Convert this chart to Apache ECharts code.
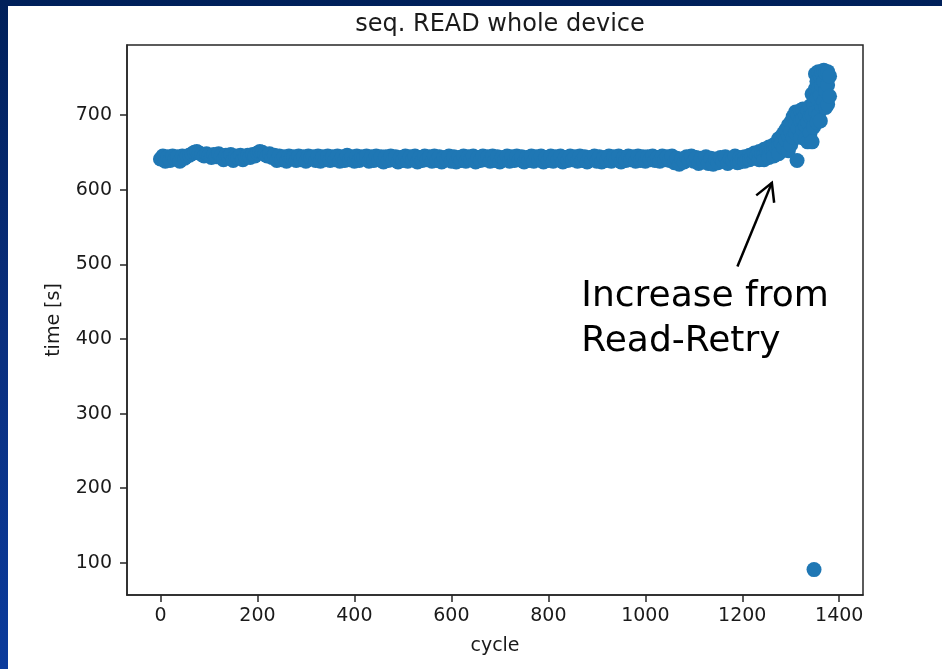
<!DOCTYPE html>
<html>
<head>
<meta charset="utf-8">
<title>seq. READ whole device</title>
<script src="https://cdn.jsdelivr.net/npm/echarts@6/dist/echarts.min.js"></script>
<style>
  html, body { margin: 0; padding: 0; width: 942px; height: 669px; overflow: hidden; }
  body { background: linear-gradient(to bottom, #00205a 0%, #0a2f7e 50%, #0b3b9c 100%); position: relative; }
  #sheet { position: absolute; left: 8px; top: 6px; right: 0; bottom: 0; background: #ffffff; }
  #chart { position: absolute; left: 0; top: 0; width: 942px; height: 669px; }
</style>
</head>
<body>
<div id="sheet"></div>
<div id="chart"></div>
<script>
// Read time per full-device sequential read, one point per sampled cycle.
const plateau = [
  [0, 641], [5, 645], [10, 638], [15, 644], [20, 639], [25, 645], [30, 641], [35, 644], [40, 638], [45, 645], [50, 642], [55, 645],
  [60, 646], [65, 648], [70, 650], [75, 651], [80, 649], [85, 647], [90, 645], [95, 648], [100, 646], [105, 643], [110, 647], [115, 644],
  [120, 648], [125, 645], [130, 640], [135, 646], [140, 644], [145, 647], [150, 639], [155, 645], [160, 643], [165, 646], [170, 640], [175, 644],
  [180, 646], [185, 643], [190, 647], [195, 645], [200, 649], [205, 651], [210, 650], [215, 647], [220, 645], [225, 648], [230, 643], [235, 646],
  [240, 639], [245, 645], [250, 640], [255, 644], [260, 638], [265, 645], [270, 643], [275, 644], [280, 639], [285, 645], [290, 640], [295, 644],
  [300, 638], [305, 645], [310, 643], [315, 644], [320, 639], [325, 645], [330, 638], [335, 644], [340, 640], [345, 645], [350, 639], [355, 644],
  [360, 640], [365, 645], [370, 638], [375, 644], [380, 639], [385, 646], [390, 640], [395, 644], [400, 638], [405, 645], [410, 639], [415, 644],
  [420, 643], [425, 645], [430, 638], [435, 644], [440, 639], [445, 645], [450, 640], [455, 644], [460, 637], [465, 644], [470, 639], [475, 645],
  [480, 640], [485, 644], [490, 637], [495, 643], [500, 639], [505, 645], [510, 638], [515, 644], [520, 640], [525, 645], [530, 637], [535, 643],
  [540, 639], [545, 645], [550, 640], [555, 644], [560, 638], [565, 645], [570, 639], [575, 644], [580, 637], [585, 643], [590, 640], [595, 645],
  [600, 638], [605, 644], [610, 637], [615, 643], [620, 639], [625, 645], [630, 638], [635, 644], [640, 640], [645, 645], [650, 637], [655, 643],
  [660, 639], [665, 645], [670, 640], [675, 644], [680, 638], [685, 645], [690, 639], [695, 644], [700, 637], [705, 643], [710, 640], [715, 645],
  [720, 638], [725, 644], [730, 639], [735, 645], [740, 640], [745, 644], [750, 637], [755, 643], [760, 639], [765, 645], [770, 638], [775, 644],
  [780, 640], [785, 645], [790, 637], [795, 643], [800, 639], [805, 645], [810, 638], [815, 644], [820, 640], [825, 645], [830, 637], [835, 643],
  [840, 639], [845, 645], [850, 640], [855, 644], [860, 638], [865, 645], [870, 639], [875, 644], [880, 637], [885, 643], [890, 640], [895, 645],
  [900, 638], [905, 644], [910, 637], [915, 643], [920, 639], [925, 645], [930, 638], [935, 644], [940, 640], [945, 645], [950, 637], [955, 643],
  [960, 639], [965, 645], [970, 640], [975, 644], [980, 638], [985, 645], [990, 639], [995, 644], [1000, 638], [1005, 644], [1010, 640], [1015, 645],
  [1020, 639], [1025, 643], [1030, 638], [1035, 645], [1040, 640], [1045, 644], [1050, 639], [1055, 645], [1060, 636], [1065, 642], [1070, 634], [1075, 641],
  [1080, 637], [1085, 644], [1090, 640], [1095, 645], [1100, 638], [1105, 643], [1110, 635], [1115, 642], [1120, 637], [1125, 644], [1130, 635], [1135, 642],
  [1140, 634], [1145, 641], [1150, 636], [1155, 643], [1160, 638], [1165, 644], [1170, 635], [1175, 642], [1180, 639], [1185, 645], [1190, 636], [1195, 643]
];

// Late cycles: read-retry pushes the time up.
const rampUp = [
  [1195, 637], [1200, 641], [1205, 644], [1205, 638], [1210, 640], [1215, 646], [1215, 640],
  [1220, 644], [1225, 642], [1225, 649], [1230, 646], [1235, 645], [1235, 651], [1235, 640],
  [1240, 648], [1245, 654], [1245, 647], [1245, 640], [1250, 651], [1255, 650], [1255, 657], [1255, 643],
  [1260, 654], [1265, 660], [1265, 652], [1265, 645], [1270, 656], [1275, 668], [1275, 658], [1275, 648],
  [1280, 670], [1280, 662], [1285, 675], [1285, 656], [1290, 680], [1290, 666],
  [1295, 686], [1295, 672], [1295, 652], [1300, 690], [1300, 678], [1300, 660],
  [1305, 698], [1305, 670], [1310, 704], [1310, 688], [1310, 676], [1313, 639],
  [1315, 700], [1315, 682], [1320, 706], [1320, 692], [1320, 670],
  [1325, 708], [1325, 695], [1325, 680], [1330, 700], [1330, 686], [1330, 668],
  [1335, 706], [1335, 690], [1335, 664], [1340, 712], [1340, 698], [1340, 676],
  [1344, 728], [1344, 700], [1344, 664], [1347, 715], [1347, 684],
  [1351, 755], [1351, 735], [1351, 704], [1354, 745], [1354, 722], [1354, 690],
  [1357, 758], [1357, 735], [1357, 700], [1361, 752], [1361, 726], [1361, 692],
  [1364, 757], [1364, 740], [1364, 712], [1368, 760], [1368, 745], [1368, 718],
  [1372, 756], [1372, 732], [1372, 710], [1376, 758], [1376, 740], [1376, 714],
  [1380, 752], [1380, 725]
];

// Single short run.
const outlier = [[1348, 91]];

const xTicks = [0, 200, 400, 600, 800, 1000, 1200, 1400];
const yTicks = [100, 200, 300, 400, 500, 600, 700];

const FONT = 'DejaVu Sans';
const INK = '#1a1a1a';
const SPINE = '#262626';

const chart = echarts.init(document.getElementById('chart'), null, { renderer: 'canvas' });

const axisCommon = {
  type: 'value',
  nameLocation: 'middle',
  nameTextStyle: { fontFamily: FONT, fontSize: 19, color: INK },
  axisLine: { show: true, onZero: false, lineStyle: { color: SPINE, width: 1.5 } },
  splitLine: { show: false }
};

const plainNumber = (v) => String(v);

chart.setOption({
  animation: false,
  textStyle: { fontFamily: FONT },
  title: {
    text: 'seq. READ whole device',
    left: 495,
    textAlign: 'center',
    top: 8,
    textStyle: { fontFamily: FONT, fontSize: 24, fontWeight: 'normal', color: INK }
  },
  grid: {
    left: 127, right: 79, top: 45, bottom: 74,
    show: true, borderColor: SPINE, borderWidth: 1.5
  },
  xAxis: Object.assign({}, axisCommon, {
    min: -69, max: 1449,
    name: 'cycle', nameGap: 42,
    axisTick: { show: true, length: 7, lineStyle: { color: SPINE, width: 1.5 }, customValues: xTicks },
    axisLabel: { customValues: xTicks, formatter: plainNumber, fontFamily: FONT, fontSize: 19, color: INK, margin: 12 }
  }),
  yAxis: Object.assign({}, axisCommon, {
    min: 57, max: 793.7,
    name: 'time [s]', nameGap: 63,
    axisTick: { show: true, length: 7, lineStyle: { color: SPINE, width: 1.5 }, customValues: yTicks },
    axisLabel: { customValues: yTicks, formatter: plainNumber, fontFamily: FONT, fontSize: 19, color: INK, margin: 15 }
  }),
  series: [{
    type: 'scatter',
    data: plateau.concat(rampUp, outlier),
    symbol: 'circle',
    symbolSize: 15,
    itemStyle: { color: '#1f77b4', opacity: 1 }
  }]
});

// Annotation: arrow pointing at the start of the rise, with its caption.
const arrowTail = chart.convertToPixel({ gridIndex: 0 }, [1190, 497]);
const arrowTip = chart.convertToPixel({ gridIndex: 0 }, [1261, 609]);
const captionA = chart.convertToPixel({ gridIndex: 0 }, [868, 456]);
const captionB = chart.convertToPixel({ gridIndex: 0 }, [868, 396]);

function headPoints(tail, tip, len, deg) {
  const dx = tail[0] - tip[0], dy = tail[1] - tip[1];
  const d = Math.hypot(dx, dy);
  const ux = dx / d, uy = dy / d;
  const a = deg * Math.PI / 180;
  const rot = (s) => [
    tip[0] + len * (ux * Math.cos(s * a) - uy * Math.sin(s * a)),
    tip[1] + len * (ux * Math.sin(s * a) + uy * Math.cos(s * a))
  ];
  return [rot(1), tip, rot(-1)];
}

chart.setOption({
  graphic: [
    {
      type: 'line', silent: true,
      shape: { x1: arrowTail[0], y1: arrowTail[1], x2: arrowTip[0], y2: arrowTip[1] },
      style: { stroke: '#000', lineWidth: 2.5 }
    },
    {
      type: 'polyline', silent: true,
      shape: { points: headPoints(arrowTail, arrowTip, 20, 29) },
      style: { stroke: '#000', lineWidth: 2.5, fill: null, lineJoin: 'miter' }
    },
    {
      type: 'text', silent: true, x: captionA[0], y: captionA[1],
      style: { text: 'Increase from', fontFamily: FONT, fontSize: 36, fill: '#000', align: 'left', verticalAlign: 'middle' }
    },
    {
      type: 'text', silent: true, x: captionB[0], y: captionB[1],
      style: { text: 'Read-Retry', fontFamily: FONT, fontSize: 36, fill: '#000', align: 'left', verticalAlign: 'middle' }
    }
  ]
});
</script>
</body>
</html>
